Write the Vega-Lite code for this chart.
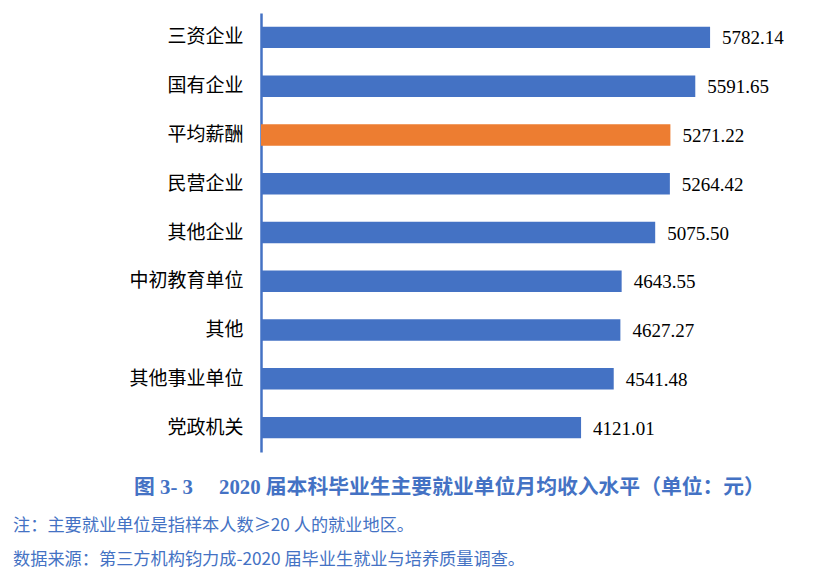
{
  "$schema": "https://vega.github.io/schema/vega-lite/v6.json",
  "autosize": {"type": "none"},
  "width": 466,
  "height": 439,
  "padding": {"left": 261, "top": 13, "right": 91, "bottom": 136},
  "background": "white",
  "config": {"view": {"stroke": null}},
  "title": {
    "text": ["注：主要就业单位是指样本人数≥20 人的就业地区。", "数据来源：第三方机构钧力成-2020 届毕业生就业与培养质量调查。"],
    "orient": "bottom",
    "anchor": "start",
    "frame": "group",
    "dx": -248,
    "dy": 2,
    "offset": 18,
    "font": "Noto Sans CJK SC",
    "fontSize": 17.2,
    "fontWeight": "normal",
    "color": "#4472C4",
    "lineHeight": 34
  },
  "data": {
    "values": [
      {"unit": "三资企业", "value": 5782.14, "kind": "u"},
      {"unit": "国有企业", "value": 5591.65, "kind": "u"},
      {"unit": "平均薪酬", "value": 5271.22, "kind": "avg"},
      {"unit": "民营企业", "value": 5264.42, "kind": "u"},
      {"unit": "其他企业", "value": 5075.50, "kind": "u"},
      {"unit": "中初教育单位", "value": 4643.55, "kind": "u"},
      {"unit": "其他", "value": 4627.27, "kind": "u"},
      {"unit": "其他事业单位", "value": 4541.48, "kind": "u"},
      {"unit": "党政机关", "value": 4121.01, "kind": "u"}
    ]
  },
  "encoding": {
    "y": {
      "field": "unit",
      "type": "nominal",
      "sort": null,
      "scale": {"paddingInner": 0.56, "paddingOuter": 0.28},
      "axis": {
        "title": null,
        "domainColor": "#4472C4",
        "domainWidth": 2.5,
        "ticks": false,
        "labelPadding": 18,
        "labelFont": "Noto Sans CJK SC",
        "labelFontSize": 19,
        "labelColor": "#000000"
      }
    },
    "x": {
      "field": "value",
      "type": "quantitative",
      "scale": {"domain": [0, 6000], "nice": false},
      "axis": {
        "title": "图 3- 3\u2003 2020 届本科毕业生主要就业单位月均收入水平（单位：元）",
        "titleFont": "Liberation Serif, Noto Sans CJK SC",
        "titleFontSize": 20.8,
        "titleFontWeight": "bold",
        "titleColor": "#4472C4",
        "titleX": 188,
        "titleY": 35,
        "titleBaseline": "middle",
        "titleAnchor": "middle",
        "titleAlign": "center",
        "labels": false,
        "ticks": false,
        "domain": false,
        "grid": false
      }
    }
  },
  "layer": [
    {
      "mark": {"type": "bar"},
      "encoding": {
        "color": {
          "field": "kind",
          "type": "nominal",
          "scale": {"domain": ["u", "avg"], "range": ["#4472C4", "#ED7D31"]},
          "legend": null
        }
      }
    },
    {
      "mark": {
        "type": "text",
        "align": "left",
        "baseline": "middle",
        "dx": 12,
        "dy": 1,
        "font": "Liberation Serif",
        "fontSize": 19,
        "color": "#000000"
      },
      "encoding": {
        "text": {"field": "value", "type": "quantitative", "format": ".2f"}
      }
    }
  ]
}
